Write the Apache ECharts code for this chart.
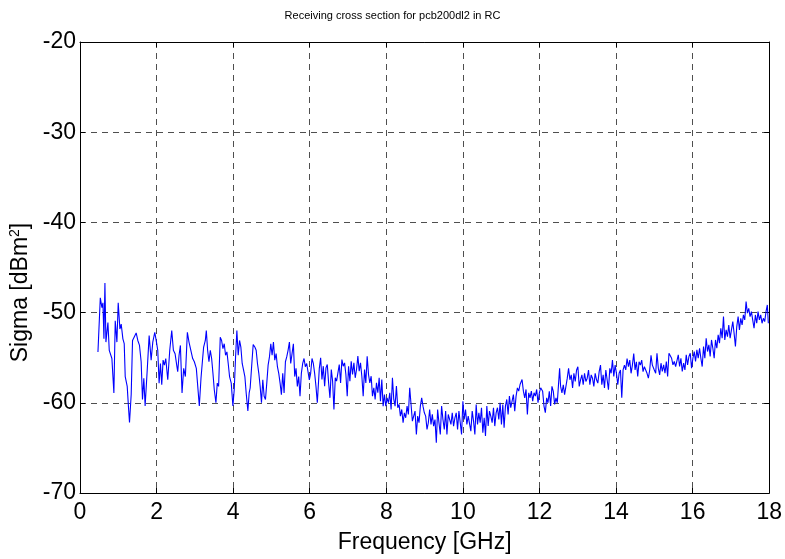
<!DOCTYPE html>
<html>
<head>
<meta charset="utf-8">
<script src="https://cdn.jsdelivr.net/npm/echarts@6/dist/echarts.min.js"></script>
<style>html,body{margin:0;padding:0;background:#fff;}#chart{width:785px;height:559px;}</style>
</head>
<body>
<div id="chart"></div>
<script>
const titleText = 'Receiving cross section for pcb200dl2 in RC';
const xName = 'Frequency [GHz]';
const xTicks = [0, 2, 4, 6, 8, 10, 12, 14, 16, 18];
const yTicks = [-70, -60, -50, -40, -30, -20];

const freq = [
0.469,0.530,0.573,0.599,0.625,0.651,0.677,0.729,0.764,0.799,0.833,0.885,0.920,0.964,0.998,1.042,1.076,1.120,1.155,1.181,1.233,1.267,1.293,1.337,1.372,1.424,1.467,1.510,1.554,1.597,1.632,1.667,1.701,1.753,1.806,1.858,1.901,1.953,1.997,2.031,2.066,2.101,2.135,2.170,2.205,2.240,2.292,2.344,2.396,2.439,2.483,2.526,2.552,2.587,2.622,2.665,2.708,2.752,2.804,2.847,2.899,2.943,2.986,3.038,3.073,3.116,3.160,3.203,
3.229,3.273,3.299,3.333,3.368,3.403,3.438,3.472,3.507,3.550,3.585,3.620,3.663,3.698,3.733,3.767,3.802,3.837,3.871,3.906,3.950,3.993,4.028,4.063,4.097,4.132,4.167,4.201,4.236,4.271,4.306,4.340,4.384,4.418,4.444,4.488,4.523,4.566,4.601,4.635,4.670,4.705,4.740,4.774,4.809,4.844,4.878,4.913,4.948,4.983,5.017,5.052,5.087,5.122,5.156,5.191,5.226,5.260,5.295,5.330,5.365,5.399,5.434,5.469,5.503,5.538,5.573,5.608,5.642,5.677,5.712,5.746,5.781,5.816,5.851,5.885,5.920,5.955,5.990,6.024,6.059,6.094,6.128,6.163,6.198,6.250,
6.285,6.319,6.354,6.389,6.424,6.458,6.493,6.528,6.563,6.597,6.632,6.667,6.701,6.736,6.771,6.806,6.840,6.875,6.910,6.944,6.979,7.014,7.049,7.083,7.118,7.153,7.188,7.222,7.257,7.292,7.326,7.361,7.396,7.431,7.465,7.500,7.535,7.569,7.604,7.639,7.674,7.708,7.743,7.778,7.813,7.847,7.882,7.917,7.951,7.986,8.021,8.056,8.090,8.125,8.160,8.195,8.229,8.264,8.299,8.333,8.368,8.403,8.438,8.472,8.507,8.542,8.576,8.611,8.646,8.681,8.715,8.750,8.785,8.819,8.854,8.889,8.924,8.958,8.993,9.028,9.063,9.097,9.132,
9.167,9.201,9.236,9.271,9.306,9.340,9.375,9.410,9.444,9.479,9.514,9.549,9.583,9.618,9.653,9.688,9.722,9.757,9.792,9.826,9.861,9.896,9.931,9.965,10.000,10.035,10.069,10.104,10.139,10.174,10.208,10.243,10.278,10.313,10.347,10.382,10.417,10.451,10.486,10.521,10.556,10.590,10.625,10.660,10.694,10.729,10.764,10.799,10.833,10.868,10.903,10.938,10.972,11.007,11.042,11.076,11.111,11.146,11.181,11.215,11.250,11.285,11.319,11.354,11.389,11.424,11.458,11.493,11.545,11.580,11.615,11.649,11.684,11.719,11.753,11.788,11.823,11.858,11.892,11.927,11.962,11.997,12.031,
12.083,12.118,12.153,12.188,12.222,12.257,12.292,12.326,12.361,12.396,12.431,12.465,12.500,12.526,12.552,12.587,12.622,12.656,12.691,12.726,12.760,12.795,12.830,12.865,12.899,12.934,12.969,13.003,13.038,13.073,13.108,13.142,13.177,13.212,13.247,13.281,13.316,13.351,13.385,13.420,13.455,13.490,13.524,13.559,13.594,13.628,13.663,13.698,13.733,13.767,13.802,13.837,13.872,13.906,13.941,13.976,14.010,14.045,14.080,14.115,14.149,14.184,14.219,14.253,14.288,14.323,14.358,14.392,14.427,14.462,14.497,14.531,14.566,14.601,14.635,14.670,14.705,14.740,14.774,14.809,14.844,14.879,14.913,14.948,14.999,
15.035,15.069,15.104,15.139,15.174,15.208,15.243,15.278,15.313,15.347,15.382,15.417,15.451,15.486,15.521,15.556,15.590,15.625,15.660,15.694,15.729,15.764,15.799,15.833,15.868,15.903,15.938,15.972,16.007,16.042,16.076,16.111,16.146,16.181,16.215,16.250,16.285,16.319,16.354,16.389,16.424,16.458,16.493,16.528,16.563,16.597,16.632,16.667,16.701,16.736,16.771,16.806,16.840,16.875,16.910,16.944,16.979,17.014,17.049,17.083,17.118,17.153,17.188,17.222,17.257,17.292,17.326,17.361,17.396,17.431,17.465,17.500,17.535,17.569,17.604,17.639,17.674,17.708,17.743,17.778,17.813,17.847,17.882,17.917,17.951,17.977,17.995
];

const sigma = [
-54.36,-48.36,-49.45,-48.91,-52.91,-46.73,-53.27,-51.09,-54.18,-54.36,-55.09,-58.91,-50.91,-53.27,-48.91,-51.82,-51.27,-52.91,-53.45,-57.09,-58.18,-60.55,-62.18,-59.09,-53.09,-52.91,-52.25,-53.09,-53.64,-55.45,-59.64,-57.27,-60.36,-56.55,-52.55,-55.27,-53.27,-52.18,-53.27,-54.18,-57.82,-55.64,-58.00,-55.27,-55.82,-55.09,-57.45,-54.18,-52.00,-54.18,-54.55,-55.82,-56.55,-54.73,-53.64,-58.91,-56.18,-57.09,-52.18,-53.27,-53.45,-55.09,-55.45,-56.18,-56.36,-60.36,-57.27,-55.09,
-53.82,-53.09,-52.00,-54.18,-55.45,-54.18,-55.09,-56.73,-58.55,-60.00,-57.82,-58.18,-52.73,-53.09,-54.00,-53.45,-54.73,-54.36,-55.64,-57.09,-57.82,-60.36,-58.55,-54.91,-52.00,-54.73,-53.09,-53.82,-55.64,-56.36,-57.09,-58.91,-60.91,-58.91,-58.36,-55.64,-53.53,-53.82,-54.18,-55.64,-56.73,-58.18,-60.00,-57.45,-59.27,-59.64,-57.82,-55.82,-54.91,-53.45,-54.73,-53.27,-55.27,-54.55,-56.00,-56.73,-57.82,-59.09,-56.73,-58.91,-55.45,-54.91,-54.18,-53.27,-55.64,-54.55,-53.45,-57.09,-56.18,-58.18,-57.09,-59.27,-56.73,-55.64,-55.09,-56.00,-55.64,-55.82,-57.45,-56.73,-55.09,-55.64,-56.73,-58.18,-60.00,-56.18,
-55.02,-57.42,-55.94,-58.15,-56.13,-55.76,-57.79,-59.45,-56.31,-57.60,-60.74,-57.23,-57.60,-56.68,-55.76,-57.79,-55.20,-55.94,-55.57,-56.86,-59.26,-55.94,-57.60,-55.39,-56.86,-55.57,-57.23,-56.31,-54.83,-56.49,-55.57,-57.05,-59.26,-56.31,-57.79,-54.83,-56.86,-57.79,-57.05,-59.26,-58.34,-59.63,-57.79,-58.89,-57.23,-59.82,-57.42,-60.37,-59.08,-60.37,-59.45,-60.00,-58.89,-60.74,-57.23,-59.63,-60.37,-58.15,-60.55,-60.18,-61.48,-60.74,-62.21,-61.11,-61.66,-60.37,-61.29,-58.34,-60.18,-62.03,-61.48,-60.92,-63.51,-61.48,-62.21,-60.37,-59.45,-60.37,-61.11,-61.48,-62.95,-62.21,-60.74,
-62.40,-61.29,-62.58,-61.85,-64.43,-60.74,-62.21,-63.51,-60.37,-61.85,-62.95,-60.92,-63.51,-61.29,-61.48,-62.40,-61.11,-62.58,-61.66,-61.11,-62.95,-60.92,-62.21,-63.51,-59.82,-61.85,-60.74,-62.40,-61.48,-61.29,-63.14,-60.92,-62.03,-63.51,-60.18,-62.40,-61.11,-62.21,-60.55,-63.32,-61.66,-63.69,-60.37,-62.58,-60.92,-61.48,-62.21,-60.55,-62.58,-61.11,-60.55,-61.85,-60.00,-62.40,-60.18,-62.77,-60.37,-59.63,-61.29,-59.26,-60.55,-59.82,-59.08,-60.92,-59.26,-58.34,-58.71,-57.97,-57.42,-58.71,-59.45,-58.52,-61.29,-58.89,-59.45,-58.71,-59.82,-58.89,-59.26,-58.52,-60.00,-58.89,-58.34,
-58.73,-60.36,-61.09,-59.45,-60.00,-58.73,-60.36,-58.18,-58.73,-60.18,-59.45,-60.00,-60.00,-56.18,-58.18,-58.91,-58.00,-59.09,-58.18,-57.27,-56.18,-57.45,-56.91,-58.36,-56.73,-57.64,-56.36,-56.00,-58.18,-57.45,-56.91,-58.00,-56.73,-57.64,-57.27,-56.36,-58.00,-56.91,-57.27,-58.18,-56.73,-57.45,-57.82,-56.55,-55.82,-58.00,-56.91,-58.36,-56.36,-57.45,-58.55,-56.18,-56.73,-55.27,-57.09,-55.82,-56.73,-58.00,-56.73,-56.36,-59.45,-56.36,-55.82,-56.36,-55.09,-56.00,-55.27,-56.73,-55.82,-54.55,-56.36,-55.45,-57.09,-55.45,-55.82,-55.27,-56.55,-56.00,-56.18,-56.73,-57.27,-56.36,-54.73,-55.82,-56.36,
-56.72,-54.50,-56.16,-56.90,-55.61,-56.53,-55.79,-56.72,-55.42,-57.08,-54.50,-54.69,-55.06,-55.79,-55.42,-55.98,-56.16,-54.69,-55.98,-55.06,-56.53,-55.61,-56.35,-54.69,-55.79,-54.87,-54.50,-56.16,-55.06,-54.32,-55.42,-54.13,-55.06,-53.95,-55.06,-55.98,-53.76,-55.06,-52.84,-54.32,-53.58,-54.87,-53.03,-53.95,-55.06,-53.03,-53.95,-52.47,-53.39,-51.73,-52.84,-50.44,-53.03,-51.92,-52.66,-51.37,-52.84,-51.92,-51.00,-52.29,-53.76,-51.55,-50.44,-51.92,-50.63,-51.37,-50.26,-50.81,-48.78,-50.07,-49.52,-50.44,-49.89,-50.81,-51.73,-50.26,-51.18,-49.89,-50.81,-50.26,-51.18,-50.63,-51.00,-49.89,-49.15,-51.18,-51.18
];

const yName = 'Sigma [dBm{sup|2}]';

const points = freq.map((f, i) => [f, sigma[i]]);
const FONT = 'Liberation Sans, Arial, Helvetica, sans-serif';
const FS = 23;

const chart = echarts.init(document.getElementById('chart'), null, {renderer: 'canvas'});
const gridDash = {type: [6, 5], color: '#222', width: 0.8};
chart.setOption({
  animation: false,
  backgroundColor: '#ffffff',
  title: {
    text: titleText,
    left: 'center', top: 5,
    textStyle: {fontFamily: FONT, fontSize: 11, fontWeight: 'normal', color: '#000'}
  },
  grid: {left: 80, right: 13, top: 42, bottom: 65, containLabel: false},
  xAxis: [{
    type: 'value', min: xTicks[0], max: xTicks[xTicks.length - 1], interval: 2,
    name: xName, nameLocation: 'middle', nameGap: 38,
    nameTextStyle: {fontFamily: FONT, fontSize: FS, color: '#000'},
    axisLine: {show: true, onZero: false, lineStyle: {color: '#000', width: 1}},
    axisTick: {show: true, inside: true, length: 5, lineStyle: {color: '#000'}},
    axisLabel: {fontFamily: FONT, fontSize: FS, color: '#000', margin: 8},
    splitLine: {show: true, lineStyle: gridDash}
  }, {
    type: 'value', position: 'top', min: xTicks[0], max: xTicks[xTicks.length - 1], interval: 2,
    axisLine: {show: true, onZero: false, lineStyle: {color: '#000', width: 1}},
    axisTick: {show: true, inside: true, length: 5, lineStyle: {color: '#000'}},
    axisLabel: {show: false}, splitLine: {show: false}
  }],
  yAxis: [{
    type: 'value', min: yTicks[0], max: yTicks[yTicks.length - 1], interval: 10,
    name: yName, nameLocation: 'middle', nameGap: 38, nameRotate: 90,
    nameTextStyle: {fontFamily: FONT, fontSize: FS, color: '#000', padding: [0, 50, 0, 0],
      rich: {sup: {fontFamily: FONT, fontSize: 14, color: '#000', verticalAlign: 'top', padding: [0, 0, 10, 0]}}},
    axisLine: {show: true, onZero: false, lineStyle: {color: '#000', width: 1}},
    axisTick: {show: true, inside: true, length: 5, lineStyle: {color: '#000'}},
    axisLabel: {fontFamily: FONT, fontSize: FS, color: '#000', margin: 4},
    splitLine: {show: true, lineStyle: gridDash}
  }, {
    type: 'value', position: 'right', min: yTicks[0], max: yTicks[yTicks.length - 1], interval: 10,
    axisLine: {show: true, onZero: false, lineStyle: {color: '#000', width: 1}},
    axisTick: {show: true, inside: true, length: 5, lineStyle: {color: '#000'}},
    axisLabel: {show: false}, splitLine: {show: false}
  }],
  series: [{
    type: 'line', xAxisIndex: 0, yAxisIndex: 0,
    data: points, showSymbol: false, symbol: 'none',
    lineStyle: {color: '#0000ff', width: 1.1},
    silent: true
  }]
});
</script>
</body>
</html>
